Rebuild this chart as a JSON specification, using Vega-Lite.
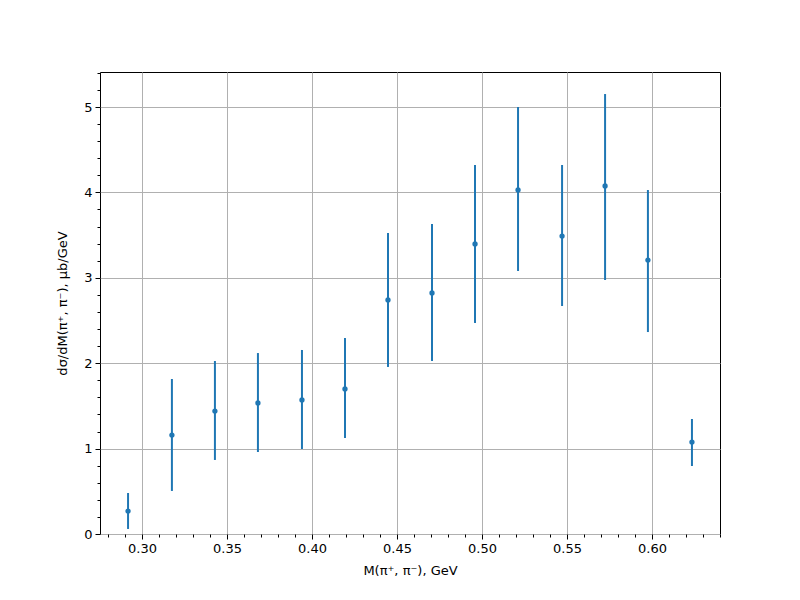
{
  "$schema": "https://vega.github.io/schema/vega-lite/v6.json",
  "width": 620,
  "height": 462,
  "autosize": {"type": "none"},
  "padding": {"left": 100, "top": 72, "right": 80, "bottom": 66},
  "background": "white",
  "config": {
    "font": "DejaVu Sans",
    "view": {"stroke": "black", "strokeWidth": 1},
    "axis": {
      "labelFont": "DejaVu Sans",
      "titleFont": "DejaVu Sans",
      "labelFontSize": 13,
      "titleFontSize": 13,
      "labelColor": "black",
      "titleColor": "black",
      "titleFontWeight": "normal",
      "tickColor": "black",
      "domain": false,
      "gridColor": "#b0b0b0",
      "gridWidth": 1,
      "tickWidth": 1,
      "labelPadding": 3,
      "labelOverlap": false
    }
  },
  "data": {
    "values": [
      {"m": 0.2918, "v": 0.269, "lo": 0.059, "hi": 0.480},
      {"m": 0.3176, "v": 1.159, "lo": 0.504, "hi": 1.815},
      {"m": 0.3429, "v": 1.440, "lo": 0.867, "hi": 2.026},
      {"m": 0.3682, "v": 1.534, "lo": 0.960, "hi": 2.119},
      {"m": 0.3941, "v": 1.569, "lo": 0.995, "hi": 2.155},
      {"m": 0.4194, "v": 1.698, "lo": 1.124, "hi": 2.295},
      {"m": 0.4447, "v": 2.740, "lo": 1.956, "hi": 3.525},
      {"m": 0.4706, "v": 2.822, "lo": 2.026, "hi": 3.630},
      {"m": 0.4959, "v": 3.396, "lo": 2.471, "hi": 4.321},
      {"m": 0.5212, "v": 4.028, "lo": 3.080, "hi": 5.000},
      {"m": 0.5471, "v": 3.489, "lo": 2.670, "hi": 4.321},
      {"m": 0.5724, "v": 4.075, "lo": 2.974, "hi": 5.152},
      {"m": 0.5976, "v": 3.208, "lo": 2.365, "hi": 4.028},
      {"m": 0.6235, "v": 1.077, "lo": 0.796, "hi": 1.347}
    ]
  },
  "encoding": {
    "x": {
      "field": "m",
      "type": "quantitative",
      "scale": {"domain": [0.2753, 0.64], "nice": false, "zero": false},
      "axis": {
        "title": "M(π⁺, π⁻), GeV",
        "values": [0.28,0.29,0.30,0.31,0.32,0.33,0.34,0.35,0.36,0.37,0.38,0.39,0.40,0.41,0.42,0.43,0.44,0.45,0.46,0.47,0.48,0.49,0.50,0.51,0.52,0.53,0.54,0.55,0.56,0.57,0.58,0.59,0.60,0.61,0.62,0.63,0.64],
        "labelExpr": "round(datum.value*100) % 5 == 0 ? format(datum.value, '.2f') : ''",
        "tickSize": {"condition": {"test": "round(datum.value*100) % 5 == 0", "value": 5}, "value": 3},
        "gridOpacity": {"condition": {"test": "round(datum.value*100) % 5 == 0", "value": 1}, "value": 0},
        "titlePadding": 9
      }
    },
    "y": {
      "field": "v",
      "type": "quantitative",
      "scale": {"domain": [0, 5.41], "nice": false, "zero": true},
      "axis": {
        "title": "dσ/dM(π⁺, π⁻), μb/GeV",
        "values": [0,0.2,0.4,0.6,0.8,1,1.2,1.4,1.6,1.8,2,2.2,2.4,2.6,2.8,3,3.2,3.4,3.6,3.8,4,4.2,4.4,4.6,4.8,5,5.2,5.4],
        "labelExpr": "round(datum.value*5) % 5 == 0 ? format(datum.value, 'd') : ''",
        "tickSize": {"condition": {"test": "round(datum.value*5) % 5 == 0", "value": 5}, "value": 3},
        "gridOpacity": {"condition": {"test": "round(datum.value*5) % 5 == 0", "value": 1}, "value": 0},
        "titlePadding": 14
      }
    }
  },
  "layer": [
    {
      "mark": {"type": "rule", "color": "#1f77b4", "strokeWidth": 2},
      "encoding": {
        "y": {"field": "lo", "type": "quantitative"},
        "y2": {"field": "hi"}
      }
    },
    {
      "mark": {"type": "point", "filled": true, "color": "#1f77b4", "size": 28, "opacity": 1}
    }
  ]
}
